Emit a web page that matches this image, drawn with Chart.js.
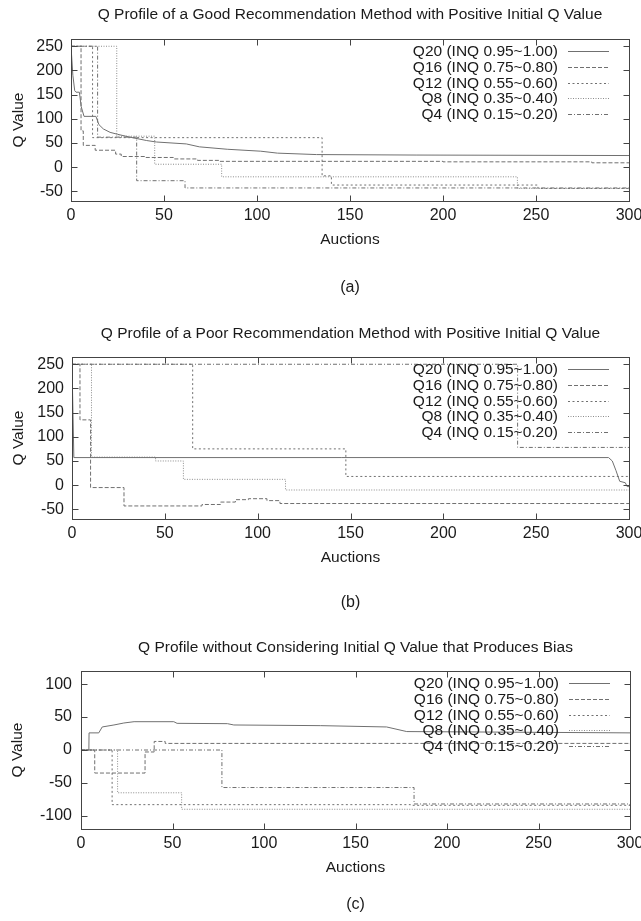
<!DOCTYPE html>
<html>
<head>
<meta charset="utf-8">
<script src="https://cdn.jsdelivr.net/npm/chart.js@4.4.1/dist/chart.umd.min.js"></script>
<style>
html, body { margin: 0; padding: 0; background: #fff; }
body { width: 641px; height: 921px; position: relative; overflow: hidden; }
.panel { position: absolute; left: 0; width: 641px; }
canvas { display: block; }
</style>
</head>
<body>
<div class="panel" style="top:0px;height:319px"><canvas id="chartA" width="641" height="319"></canvas></div>
<div class="panel" style="top:319px;height:314px"><canvas id="chartB" width="641" height="314"></canvas></div>
<div class="panel" style="top:633px;height:288px"><canvas id="chartC" width="641" height="288"></canvas></div>
<script>
// series names and ticks
const seriesNames = ['Q20 (INQ 0.95~1.00)', 'Q16 (INQ 0.75~0.80)', 'Q12 (INQ 0.55~0.60)', 'Q8 (INQ 0.35~0.40)', 'Q4 (INQ 0.15~0.20)'];
const xTicks = [0, 50, 100, 150, 200, 250, 300];
const yTicksAB = [-50, 0, 50, 100, 150, 200, 250];
const yTicksC = [-100, -50, 0, 50, 100];

// (a) good method, positive initial Q  -- [auction, Q]
const aQ20 = [[0,250],[1,190],[2,158],[2.7,155],[4.5,155],[5.5,125],[7,105],[13.4,105],[15,88],[17.4,79],[21,72],[25,68],[31.7,62],[40.7,55],[46,52],[62,48],[69,42],[84,37],[102,33],[111,29],[132,26],[186,25],[300,24]];
const aQ16 = [[0,250],[5.4,75],[6.6,45],[13,35],[24,27],[27,22],[40,20],[55,17],[68,14],[80,12],[200,11],[280,9],[300,9]];
const aQ12 = [[0,250],[11.6,61],[135,-18],[140,-37],[251,-44],[300,-46]];
const aQ8  = [[0,250],[24.6,64],[45,6],[81,-20],[240,-44],[300,-47]];
const aQ4  = [[0,250],[14.3,62],[35.3,-28],[61.3,-43],[300,-46]];

// (b) poor method, positive initial Q
const bQ20 = [[0,250],[1,57],[289,57],[291,50],[293,30],[295,8],[298,5],[299,-3],[300,-3]];
const bQ16 = [[0,250],[4.3,135],[10,-5],[28,-43],[70,-40],[80,-35],[88,-30],[95,-28],[105,-32],[112,-38],[300,-38]];
const bQ12 = [[0,250],[65,75],[147.5,18],[300,18]];
const bQ8  = [[0,250],[10.5,58],[45,50],[60,12],[115,-10],[300,-10]];
const bQ4  = [[0,250],[240,78],[300,78]];

// (c) without initial Q
const cQ20 = [[0,0],[4.3,0],[4.4,26],[9.7,26],[11.6,35],[18,38],[23.4,41],[29,43],[50.7,43],[52.5,40.5],[80,40],[83.5,38],[131,37],[167,35],[178,28],[300,26]];
const cQ16 = [[0,0],[7.5,-35],[35,-3],[40,13],[46,10],[300,9]];
const cQ12 = [[0,0],[17,-83],[180,-84],[300,-85]];
const cQ8  = [[0,0],[20,-65],[55,-90],[300,-90]];
const cQ4  = [[0,0],[77,-57],[182,-82],[300,-84]];

const FONT = "'Liberation Sans', Arial, sans-serif";
Chart.defaults.font.family = FONT;
Chart.defaults.color = '#1a1a1a';

const lineColors = ['#707070', '#707070', '#707070', '#8c8c8c', '#707070'];
const lineDashes = [[], [4, 2], [2, 2.5], [1, 1.5], [4, 2, 1, 2]];

// frame with inward ticks on all four sides (gnuplot look)
const framePlugin = {
  id: 'frame',
  afterDatasetsDraw(chart) {
    const {ctx, chartArea: a, scales: {x, y}} = chart;
    const L = Math.round(a.left) + 0.5, R = Math.round(a.right) + 0.5;
    const T = Math.round(a.top) + 0.5, B = Math.round(a.bottom) + 0.5;
    ctx.save();
    ctx.strokeStyle = '#444';
    ctx.lineWidth = 1;
    ctx.strokeRect(L, T, R - L, B - T);
    ctx.beginPath();
    x.ticks.forEach(t => {
      const px = Math.round(x.getPixelForValue(t.value)) + 0.5;
      ctx.moveTo(px, B); ctx.lineTo(px, B - 6);
      ctx.moveTo(px, T); ctx.lineTo(px, T + 6);
    });
    y.ticks.forEach(t => {
      const py = Math.round(y.getPixelForValue(t.value)) + 0.5;
      ctx.moveTo(L, py); ctx.lineTo(L + 6, py);
      ctx.moveTo(R, py); ctx.lineTo(R - 6, py);
    });
    ctx.stroke();
    ctx.restore();
  }
};

// key inside the plot, text right aligned, sample to the right
const keyPlugin = {
  id: 'key',
  afterDraw(chart) {
    const {ctx, chartArea: a} = chart;
    ctx.save();
    ctx.font = '15.5px ' + FONT;
    ctx.textAlign = 'right';
    ctx.textBaseline = 'middle';
    chart.data.datasets.forEach((ds, i) => {
      const yy = Math.round(a.top + 12.5 + i * 15.5) + 0.5;
      ctx.fillStyle = '#1a1a1a';
      ctx.fillText(ds.label, a.right - 71, yy);
      ctx.strokeStyle = ds.borderColor;
      ctx.lineWidth = 1;
      ctx.setLineDash(ds.borderDash);
      ctx.beginPath();
      ctx.moveTo(a.right - 61, yy);
      ctx.lineTo(a.right - 20, yy);
      ctx.stroke();
      ctx.setLineDash([]);
    });
    ctx.restore();
  }
};

function makePanel(id, p) {
  const datasets = seriesNames.map((name, i) => ({
    label: name,
    data: p.series[i],
    borderColor: lineColors[i],
    borderWidth: 1,
    borderDash: lineDashes[i],
    stepped: i === 0 ? false : 'before',
    pointRadius: 0,
    fill: false,
    tension: 0
  }));
  const xAxisH = 50;
  const subTop = p.subCenter - (p.areaBottom + xAxisH) - 9.6;
  const subBottom = p.height - (p.areaBottom + xAxisH) - subTop - 19.2;
  new Chart(document.getElementById(id), {
    type: 'line',
    data: { datasets },
    plugins: [framePlugin, keyPlugin],
    options: {
      responsive: false,
      animation: false,
      devicePixelRatio: 1,
      layout: { padding: { left: 0, right: p.rightPad, top: 0, bottom: 0 } },
      plugins: {
        legend: { display: false },
        tooltip: { enabled: false },
        title: {
          display: true,
          text: p.title,
          fullSize: false,
          font: { size: 15.5, weight: 'normal' },
          padding: { top: 5.7, bottom: p.areaTop - 5.7 - 18.6 }
        },
        subtitle: {
          display: true,
          text: p.sub,
          position: 'bottom',
          fullSize: false,
          font: { size: 16, weight: 'normal' },
          padding: { top: subTop, bottom: subBottom }
        }
      },
      scales: {
        x: {
          type: 'linear',
          min: 0,
          max: 300,
          grid: { display: false, drawTicks: false },
          border: { display: false },
          afterBuildTicks: s => { s.ticks = xTicks.map(v => ({ value: v })); },
          afterFit: s => { s.height = xAxisH; s.paddingLeft = 0; s.paddingRight = 0; },
          ticks: { font: { size: 16 }, padding: 5.4, maxRotation: 0, autoSkip: false },
          title: { display: true, text: 'Auctions', font: { size: 15.5 }, padding: { top: 0, bottom: 1.7 } }
        },
        y: {
          type: 'linear',
          min: p.yMin,
          max: p.yMax,
          grid: { display: false, drawTicks: false },
          border: { display: false },
          afterBuildTicks: s => { s.ticks = p.yTicks.map(v => ({ value: v })); },
          afterFit: s => { s.width = p.axisW; s.paddingTop = 0; s.paddingBottom = 0; },
          ticks: { font: { size: 16 }, padding: p.yLabelPad, autoSkip: false },
          title: { display: true, text: 'Q Value', font: { size: 15.5 }, padding: { top: p.yTitlePad, bottom: 0 } }
        }
      }
    }
  });
}

makePanel('chartA', {
  title: 'Q Profile of a Good Recommendation Method with Positive Initial Q Value',
  sub: '(a)', series: [aQ20, aQ16, aQ12, aQ8, aQ4],
  yMin: -70, yMax: 265, yTicks: yTicksAB,
  height: 319, areaTop: 39, areaBottom: 201, subCenter: 288,
  axisW: 71, rightPad: 12, yLabelPad: 8, yTitlePad: 9.7
});
makePanel('chartB', {
  title: 'Q Profile of a Poor Recommendation Method with Positive Initial Q Value',
  sub: '(b)', series: [bQ20, bQ16, bQ12, bQ8, bQ4],
  yMin: -70, yMax: 265, yTicks: yTicksAB,
  height: 314, areaTop: 38, areaBottom: 200, subCenter: 284,
  axisW: 72, rightPad: 12, yLabelPad: 8, yTitlePad: 9.7
});
makePanel('chartC', {
  title: 'Q Profile without Considering Initial Q Value that Produces Bias',
  sub: '(c)', series: [cQ20, cQ16, cQ12, cQ8, cQ4],
  yMin: -120, yMax: 120, yTicks: yTicksC,
  height: 288, areaTop: 38, areaBottom: 196, subCenter: 272,
  axisW: 81, rightPad: 11, yLabelPad: 9, yTitlePad: 8.2
});
</script>
</body>
</html>
